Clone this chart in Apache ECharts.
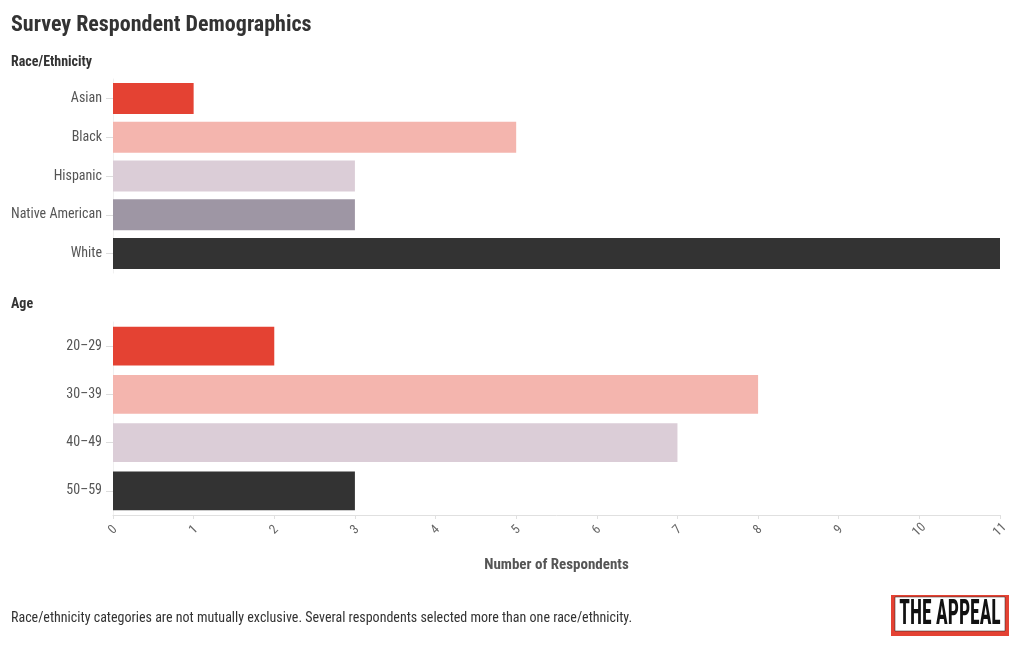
<!DOCTYPE html>
<html><head><meta charset="utf-8">
<script src="https://cdn.jsdelivr.net/npm/echarts@6/dist/echarts.min.js"></script>
<style>html,body{margin:0;padding:0;background:#fff}#c{width:1020px;height:650px}</style>
</head><body><div id="c"></div>
<script>
const raceCategories = ['Asian', 'Black', 'Hispanic', 'Native American', 'White'];
const raceValues = [1, 5, 3, 3, 11];
const ageCategories = ['20\u201329', '30\u201339', '40\u201349', '50\u201359'];
const ageValues = [2, 8, 7, 3];
const xTicks = [0,1,2,3,4,5,6,7,8,9,10,11];

const FF = '"Roboto Condensed","Liberation Sans Narrow","DejaVu Sans Condensed",Roboto,sans-serif';
const raceColors = ['#e44233', '#f4b5ae', '#dbcdd7', '#9e96a4', '#333333'];
const ageColors = ['#e44233', '#f4b5ae', '#dbcdd7', '#333333'];

const chart = echarts.init(document.getElementById('c'), null, {renderer: 'canvas'});
const xCommon = {
  type: 'value', min: 0, max: 11, interval: 1,
  splitLine: {show: false},
  axisTick: {show: true, length: 4, lineStyle: {color: '#e0e0e0'}},
  axisLine: {show: true, lineStyle: {color: '#e0e0e0'}},
  axisLabel: {rotate: 45, color: '#666', fontFamily: FF, fontSize: 13, margin: 15,
    align: 'center', verticalAlign: 'middle',
    formatter: v => xTicks.includes(v) ? String(v) : ''}
};
const yCommon = {
  type: 'category', inverse: true,
  axisLine: {show: true, lineStyle: {color: '#f0f0f0'}},
  axisTick: {show: true, length: 7, alignWithLabel: true, lineStyle: {color: '#ddd'}},
  axisLabel: {color: '#555', fontFamily: FF, fontSize: 14, margin: 11}
};
chart.setOption({
  animation: false,
  textStyle: {fontFamily: FF},
  title: [
    {text: 'Survey Respondent Demographics', left: 11, top: 14, padding: 0,
     textStyle: {fontFamily: FF, fontSize: 22, fontWeight: 'bold', color: '#333'}},
    {text: 'Race/Ethnicity', left: 11, top: 55, padding: 0,
     textStyle: {fontFamily: FF, fontSize: 14, fontWeight: 'bold', color: '#333'}},
    {text: 'Age', left: 11, top: 297, padding: 0,
     textStyle: {fontFamily: FF, fontSize: 14, fontWeight: 'bold', color: '#333'}},
    {text: 'Race/ethnicity categories are not mutually exclusive. Several respondents selected more than one race/ethnicity.',
     left: 11, top: 611, padding: 0, textStyle: {fontFamily: FF, fontSize: 14, fontWeight: 'normal', color: '#333'}}
  ],
  grid: [
    {left: 113, right: 20, top: 79, height: 194},
    {left: 113, right: 20, top: 322, height: 193}
  ],
  xAxis: [
    Object.assign({}, xCommon, {gridIndex: 0, show: false}),
    Object.assign({}, xCommon, {gridIndex: 1, name: 'Number of Respondents', nameLocation: 'middle', nameGap: 43,
      nameTextStyle: {fontFamily: FF, fontSize: 15, fontWeight: 'bold', color: '#555'}})
  ],
  yAxis: [
    Object.assign({}, yCommon, {gridIndex: 0, data: raceCategories}),
    Object.assign({}, yCommon, {gridIndex: 1, data: ageCategories})
  ],
  series: [
    {type: 'bar', xAxisIndex: 0, yAxisIndex: 0, barCategoryGap: '20%',
     data: raceValues.map((v, i) => ({value: v, itemStyle: {color: raceColors[i]}}))},
    {type: 'bar', xAxisIndex: 1, yAxisIndex: 1, barCategoryGap: '20%',
     data: ageValues.map((v, i) => ({value: v, itemStyle: {color: ageColors[i]}}))}
  ],
  graphic: [
    {type: 'rect', shape: {x: 891, y: 595, width: 118, height: 41}, style: {fill: '#e44233'}},
    {type: 'rect', shape: {x: 895, y: 597, width: 110, height: 34}, style: {fill: '#ffffff', stroke: '#222', lineWidth: 0.5}},
    {type: 'text', x: 950, y: 615, scaleX: 0.56, originX: 0, originY: 0,
     style: {text: 'THE APPEAL', fill: '#111', fontFamily: FF, fontSize: 35,
      fontWeight: 'bold', align: 'center', verticalAlign: 'middle'}}
  ]
});
</script></body></html>
